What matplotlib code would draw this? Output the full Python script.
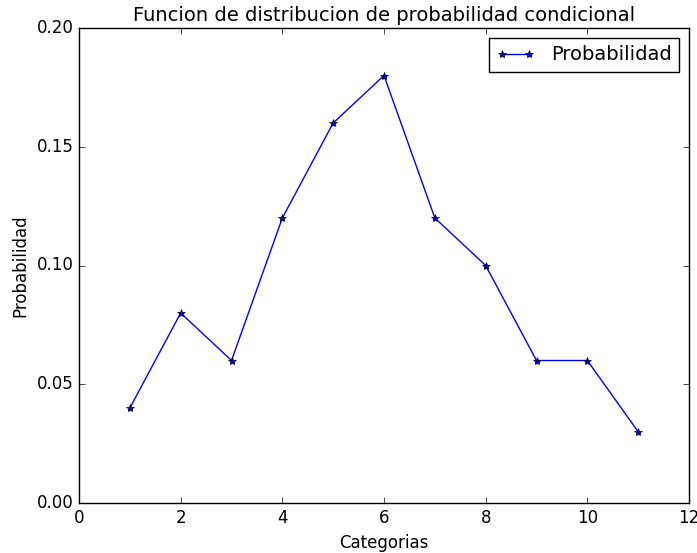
import matplotlib
matplotlib.use("Agg")
import matplotlib.pyplot as plt

categorias = [1, 2, 3, 4, 5, 6, 7, 8, 9, 10, 11]
probabilidad = [0.04, 0.08, 0.06, 0.12, 0.16, 0.18, 0.12, 0.10, 0.06, 0.06, 0.03]
xticks = [0, 2, 4, 6, 8, 10, 12]
yticks = [0.00, 0.05, 0.10, 0.15, 0.20]

plt.style.use("classic")
plt.rcParams['font.family'] = ['DejaVu Sans']

fig = plt.figure(figsize=(6.97, 5.53), dpi=100)
ax = fig.add_axes([79/697, 1-503/553, (689-79)/697, (503-28)/553])
ax.plot(categorias, probabilidad, 'b*-', label='Probabilidad', markersize=6,
        markeredgecolor='k', markerfacecolor='b', linewidth=1)
ax.set_xlim(0, 12)
ax.set_ylim(0, 0.20)
ax.set_xticks(xticks)
ax.set_yticks(yticks)
ax.set_xticklabels([str(t) for t in xticks], fontsize=12)
ax.set_yticklabels([f"{t:.2f}" for t in yticks], fontsize=12)
ax.set_xlabel('Categorias', fontsize=12)
ax.set_ylabel('Probabilidad', fontsize=12)
ax.set_title('Funcion de distribucion de probabilidad condicional', fontsize=14)
ax.legend(loc='upper right', fontsize=14)
fig.savefig('out.png', dpi=100)
